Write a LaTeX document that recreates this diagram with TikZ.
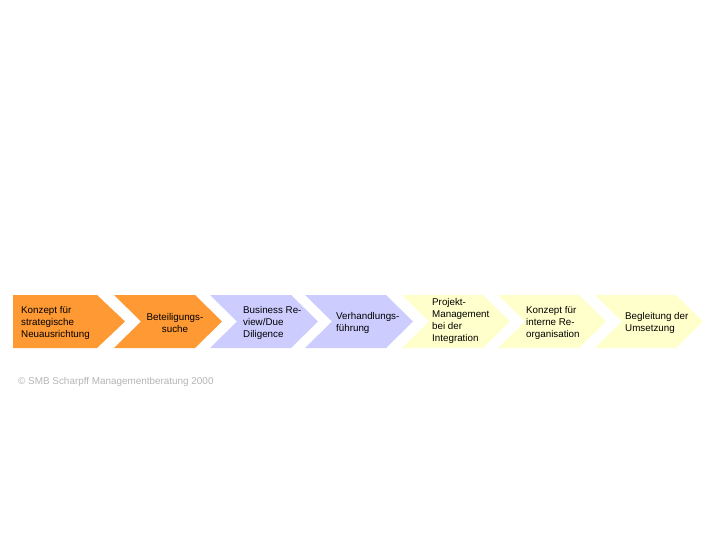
\documentclass[tikz,border=0pt]{standalone}
\usepackage{fontspec}
\setmainfont{Liberation Sans}
\definecolor{phaseorange}{HTML}{FF9933}
\definecolor{phaselilac}{HTML}{CCCCFF}
\definecolor{phaseyellow}{HTML}{FFFFCC}
\definecolor{notegray}{HTML}{B4B4B4}
\tikzset{
  phase/.style={fill=#1, draw=none},
  label/.style={font=\fontsize{9.8}{12}\selectfont, inner sep=0pt, align=left, anchor=west},
}
\begin{document}
\begin{tikzpicture}[x=1pt, y=-1pt]
  \useasboundingbox (0,0) rectangle (720,540);
  % first step, flat left side
  \fill[phase=phaseorange] (13,295) -- (97,295) -- (125,321.5) -- (97,348) -- (13,348) -- cycle;
  % the other steps
  \foreach \x/\c in {114/phaseorange, 210/phaselilac, 305/phaselilac,
                     402/phaseyellow, 498/phaseyellow, 595/phaseyellow}
    \fill[phase=\c] (\x,295) -- ++(81,0) -- ++(27,26.5) -- ++(-27,26.5)
      -- ++(-81,0) -- ++(27,-26.5) -- cycle;
  \node[label] (konzept) at (21,323) {Konzept für\\strategische\\Neuausrichtung};
  \node[label, align=center, anchor=center] (suche) at (175,323) {Beteiligungs-\\suche};
  \node[label] (review) at (243,323) {Business Re-\\view/Due\\Diligence};
  \node[label] (verhandlung) at (336,323) {Verhandlungs-\\führung};
  \node[label] (projekt) at (432,321) {Projekt-\\Management\\bei der\\Integration};
  \node[label] (reorg) at (526,323) {Konzept für\\interne Re-\\organisation};
  \node[label] (umsetzung) at (625,323) {Begleitung der\\Umsetzung};
  \node[label, text=notegray, font=\fontsize{9.9}{12}\selectfont] (copy) at (18,382) {© SMB Scharpff Managementberatung 2000};
\end{tikzpicture}
\end{document}
